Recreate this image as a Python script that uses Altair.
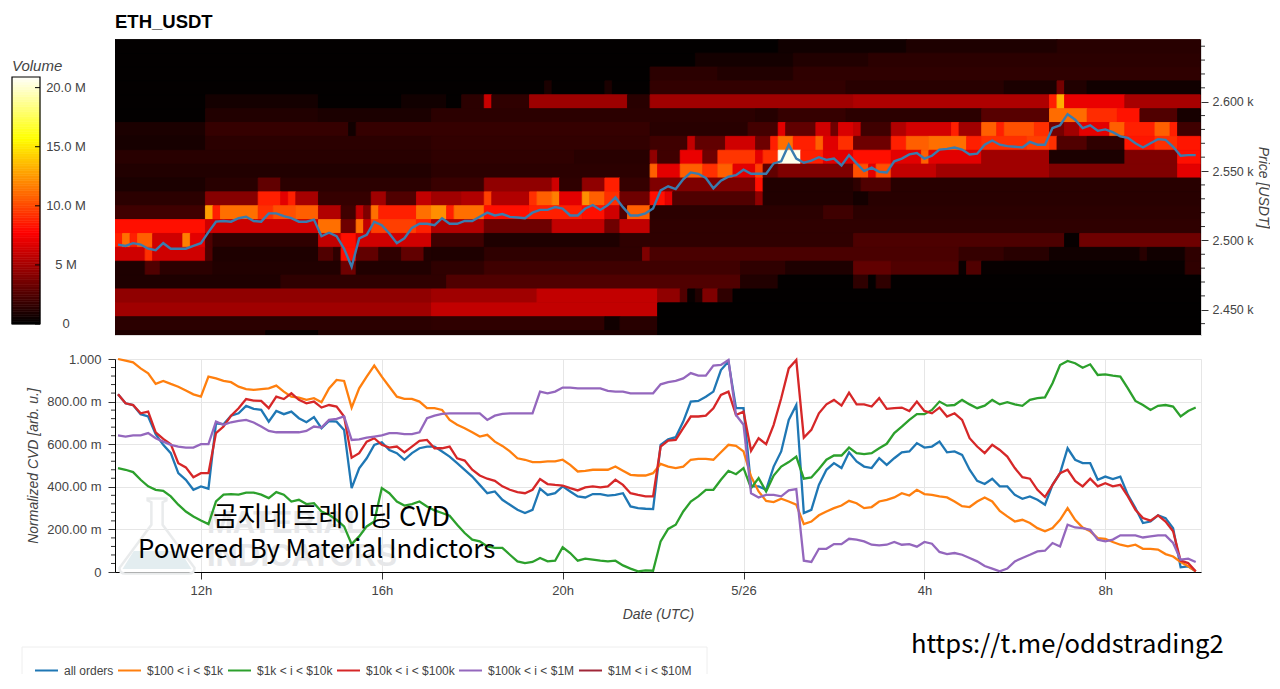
import altair as alt
import pandas as pd

# hours since 00:00 on 5/25, one step = 10 min
START_HOUR = 10 + 10 / 60
X_DOMAIN = [10.1, 34.117]
X_TICKS = [12, 16, 20, 24, 28, 32]
X_LABELS = ['12h', '16h', '20h', '5/26', '4h', '8h']

PRICE = [2497, 2496, 2498, 2497, 2494, 2493, 2498, 2494, 2494, 2494, 2496, 2498, 2506, 2513.5, 2514, 2513.5, 2516, 2517,
         2514, 2513.5, 2519.5, 2519.5, 2517.5, 2516, 2513.5, 2513.5, 2515, 2503, 2505.5, 2503, 2494, 2481, 2501.5, 2504,
         2513.5, 2511, 2505, 2498, 2501.5, 2509, 2512, 2512, 2511, 2516, 2512, 2512, 2514, 2514, 2517, 2520, 2518, 2519,
         2517, 2516.5, 2516, 2520, 2522, 2522, 2524, 2523, 2518, 2518, 2523, 2525.5, 2522, 2525.5, 2531, 2524, 2518, 2518,
         2519.5, 2523, 2536, 2539, 2537, 2544, 2549, 2548, 2545, 2537.5, 2543, 2546, 2547, 2551, 2548, 2548, 2548, 2555.5,
         2557, 2569, 2559, 2556, 2557.5, 2560, 2558, 2559, 2554, 2561.5, 2555.5, 2550, 2552.5, 2549.5, 2549, 2557, 2559,
         2562, 2563, 2559, 2561, 2565.5, 2566, 2567, 2565.5, 2562, 2562.5, 2569, 2572, 2569, 2568, 2567.5, 2567, 2571,
         2569, 2569, 2581, 2583, 2591, 2587, 2581, 2583, 2579, 2580, 2578, 2575, 2574, 2570, 2567, 2570, 2573, 2572.5,
         2567.5, 2561, 2561.5, 2561.5]

# normalized CVD in milli units
ALL_ORDERS = [834, 792, 784, 741, 730, 647, 597, 558, 464, 433, 386, 402, 391, 698, 694, 734, 745, 780, 766, 761, 706, 756,
              741, 753, 722, 703, 727, 675, 709, 706, 667, 394, 487, 534, 597, 609, 573, 558, 527, 558, 581, 589, 589, 566,
              542, 511, 480, 448, 409, 370, 378, 339, 316, 292, 277, 292, 391, 362, 370, 402, 378, 355, 350, 366, 366, 359,
              362, 370, 308, 300, 297, 295, 597, 623, 633, 706, 800, 803, 823, 847, 948, 988, 769, 769, 402, 402, 386, 495,
              566, 714, 784, 277, 292, 409, 480, 511, 488, 562, 519, 495, 488, 534, 503, 534, 562, 566, 605, 584, 589, 612,
              562, 566, 550, 480, 428, 413, 438, 402, 402, 362, 344, 355, 339, 316, 409, 464, 581, 527, 511, 511, 433, 448,
              436, 448, 362, 300, 230, 237, 266, 253, 206, 22, 27, 3]
USD_100_1K = [1000, 992, 984, 956, 933, 883, 897, 883, 870, 852, 834, 823, 917, 909, 897, 891, 870, 859, 855, 859, 862, 875,
              847, 823, 819, 808, 816, 797, 862, 902, 897, 772, 862, 917, 969, 917, 870, 823, 813, 813, 800, 769, 769, 761,
              714, 691, 675, 656, 636, 644, 612, 592, 566, 534, 527, 516, 516, 519, 519, 527, 503, 472, 475, 480, 480, 480,
              495, 475, 456, 453, 453, 464, 508, 495, 488, 495, 527, 531, 531, 527, 562, 597, 592, 566, 448, 378, 334, 328,
              344, 331, 316, 225, 237, 266, 284, 300, 312, 334, 323, 300, 305, 331, 339, 350, 370, 359, 386, 366, 362, 355,
              350, 331, 309, 305, 331, 350, 331, 287, 261, 237, 245, 230, 206, 191, 206, 245, 300, 245, 209, 191, 159, 156,
              141, 128, 120, 128, 109, 109, 105, 84, 73, 47, 27, 3]
USD_1K_10K = [488, 480, 469, 433, 402, 386, 381, 355, 316, 284, 261, 242, 225, 331, 363, 366, 363, 373, 373, 363, 347, 375,
              363, 331, 339, 319, 323, 284, 269, 245, 214, 131, 167, 214, 237, 394, 370, 331, 312, 319, 331, 308, 289, 277,
              264, 222, 183, 152, 144, 120, 113, 113, 81, 50, 42, 47, 66, 50, 53, 116, 89, 53, 63, 58, 53, 50, 53, 31, 16, 3,
              8, 6, 144, 202, 222, 284, 331, 355, 386, 386, 433, 475, 459, 488, 394, 441, 378, 453, 495, 516, 542, 438, 444,
              484, 527, 547, 547, 584, 558, 553, 558, 581, 602, 652, 683, 714, 741, 741, 761, 800, 781, 784, 808, 787, 769,
              781, 808, 787, 797, 787, 780, 808, 816, 820, 886, 972, 991, 980, 959, 975, 925, 928, 922, 917, 862, 803, 784,
              761, 780, 784, 777, 730, 756, 772]
USD_10K_100K = [834, 792, 784, 745, 753, 656, 625, 600, 511, 491, 445, 464, 464, 652, 683, 734, 769, 812, 805, 803, 769, 823,
                812, 839, 808, 792, 800, 772, 784, 777, 730, 537, 558, 612, 628, 597, 584, 589, 562, 589, 616, 620, 581, 581,
                589, 534, 523, 480, 453, 438, 428, 402, 386, 375, 370, 386, 436, 413, 409, 406, 394, 383, 397, 402, 397, 402,
                433, 409, 370, 362, 355, 355, 589, 617, 620, 675, 730, 730, 734, 769, 831, 847, 737, 753, 569, 628, 600, 691,
                816, 956, 995, 631, 667, 745, 787, 808, 781, 842, 787, 787, 777, 816, 766, 769, 772, 756, 800, 756, 745, 772,
                730, 745, 714, 628, 589, 558, 597, 573, 542, 488, 445, 438, 386, 352, 409, 464, 480, 428, 402, 438, 402, 417,
                402, 409, 355, 292, 253, 241, 266, 237, 191, 53, 42, 3]
USD_100K_1M = [641, 636, 641, 641, 652, 628, 612, 597, 589, 584, 584, 600, 600, 706, 691, 703, 709, 714, 702, 683, 662, 656,
               656, 656, 656, 662, 683, 678, 714, 719, 730, 620, 623, 631, 636, 641, 652, 652, 647, 647, 656, 722, 734, 742,
               745, 745, 745, 745, 745, 714, 734, 742, 745, 745, 745, 745, 847, 839, 847, 866, 866, 862, 862, 862, 862, 850,
               847, 847, 839, 839, 839, 839, 881, 891, 897, 909, 934, 922, 922, 969, 972, 995, 737, 691, 370, 350, 362, 362,
               355, 383, 389, 53, 47, 109, 109, 131, 131, 156, 152, 144, 128, 125, 128, 141, 128, 131, 119, 141, 133, 94, 84,
               89, 81, 66, 50, 28, 16, 3, 16, 50, 66, 81, 97, 100, 136, 120, 222, 209, 206, 198, 152, 144, 152, 172, 172, 172,
               162, 167, 172, 172, 136, 58, 63, 47]
USD_1M_10M = []

SERIES_NAMES = ['all orders', '$100 < i < $1k', '$1k < i < $10k', '$10k < i < $100k', '$100k < i < $1M', '$1M < i < $10M']
SERIES_VALUES = [ALL_ORDERS, USD_100_1K, USD_1K_10K, USD_10K_100K, USD_100K_1M, USD_1M_10M]
SERIES_COLORS = ['#1f77b4', '#ff7f0e', '#2ca02c', '#d62728', '#9467bd', '#a02638']

# volume in millions per price row, as (first 10 min column, value) runs
VOLUME_ROWS = {
    2640: [(0, .1), (88, .5), (105, .9), (125, 1.2)],
    2630: [(0, .1), (77, .6), (90, 1.0), (100, 1.3)],
    2620: [(0, .1), (71, 1.3), (80, 1.0), (90, 1.4)],
    2610: [(0, .1), (57, .8), (58, .1), (65, .8), (66, .1), (71, 1.5), (97, 1.2), (118, .8), (125, 3.5), (126, 1.0), (129, .5)],
    2600: [(0, .1), (12, .6), (27, .1), (38, .5), (44, .1), (46, 1.3), (49, 6.0), (50, 1.4), (55, 4.7), (68, 1.2), (71, 4.8),
           (98, 5.2), (124, 8.6), (125, 13.1), (126, 7.0), (134, 5.0)],
    2590: [(0, .1), (12, 1.0), (27, .8), (42, 1.3), (85, 1.1), (88, 1.6), (97, 1.3), (115, 2.6), (124, 11.0), (129, 9.0),
           (133, 8.2), (136, 2.4), (141, .7)],
    2580: [(0, .8), (12, 1.6), (31, .5), (32, 1.6), (71, 1.2), (84, 2.0), (88, 6.8), (89, 2.9), (93, 6.2), (95, 3.3), (96, 6.5),
           (98, 5.8), (99, 1.9), (103, 5.3), (105, 6.3), (111, 8.6), (112, 4.8), (115, 10.6), (117, 8.6), (118, 10.1), (122, 9.1),
           (124, 3.5), (126, 4.8), (128, 6.8), (132, 10.6), (134, 8.6), (138, 10.6), (140, 8.6), (141, 1.9)],
    2570: [(0, .7), (12, 1.3), (42, 1.5), (71, 1.9), (76, 5.8), (77, 2.9), (81, 6.2), (85, 3.3), (87, 8.6), (88, 11.1), (90, 8.6),
           (93, 10.6), (94, 6.7), (96, 9.1), (98, 3.3), (103, 8.6), (105, 10.6), (108, 11.1), (113, 8.6), (115, 9.1), (121, 9.6),
           (124, 9.1), (125, 2.4), (129, 1.4), (134, 8.3), (138, 9.1), (141, 8.3)],
    2560: [(0, 1.2), (42, 1.4), (61, 1.2), (71, 4.3), (72, 1.9), (75, 7.0), (78, 3.3), (80, 9.3), (85, 6.8), (86, 9.1), (88, 20.5),
           (91, 8.6), (94, 6.8), (98, 8.1), (103, 6.8), (107, 10.6), (108, 6.8), (115, 4.8), (124, .8), (134, 3.8), (141, 8.1)],
    2550: [(0, 1.0), (42, 1.3), (71, 10.6), (72, 6.8), (75, 10.6), (78, 9.1), (80, 10.6), (82, 6.8), (85, 9.6), (86, 2.9), (88, 3.8),
           (98, 10.1), (100, 6.8), (101, 10.1), (103, 5.8), (109, 4.8), (124, 3.8), (141, 6.8)],
    2540: [(0, .8), (12, 1.2), (19, 2.9), (22, 1.3), (42, 1.7), (49, 4.3), (58, 6.2), (59, 1.4), (62, 4.3), (65, 8.6), (67, 1.6),
           (71, 3.8), (85, 8.1), (86, 1.0), (98, 1.4), (99, 2.4), (103, 1.2)],
    2530: [(0, 1.3), (12, 4.0), (19, 8.6), (22, 6.8), (23, 8.6), (24, 5.0), (27, 1.6), (34, 4.8), (36, 2.4), (40, 5.8), (42, 4.8),
           (46, 5.3), (49, 9.6), (50, 5.3), (55, 9.1), (56, 10.6), (58, 11.6), (59, 6.8), (62, 12.1), (63, 10.6), (65, 9.1), (67, 3.3),
           (71, 8.1), (73, 6.8), (74, 2.4), (85, 4.3), (86, 1.0), (98, .6), (100, 1.2)],
    2520: [(0, 1.9), (12, 12.6), (13, 8.6), (14, 11.1), (19, 9.1), (21, 10.1), (24, 10.6), (27, 5.3), (30, 1.9), (32, 5.8), (33, 3.8),
           (34, 11.1), (35, 8.6), (40, 11.1), (42, 12.1), (44, 8.6), (45, 11.1), (49, 8.1), (55, 8.6), (62, 8.1), (65, 6.2), (67, 2.4),
           (68, 10.6), (71, 1.3), (94, 1.9), (98, 1.3)],
    2510: [(0, 8.1), (12, 6.2), (27, 11.1), (30, 3.3), (32, 11.1), (33, 5.8), (34, 9.6), (40, 8.6), (42, 5.3), (49, 3.3), (58, 5.8),
           (65, 3.3), (67, 5.8), (71, 1.4)],
    2500: [(0, 8.6), (1, 11.1), (2, 8.6), (3, 10.6), (5, 6.2), (9, 11.6), (10, 6.8), (12, 2.4), (13, 1.4), (27, 5.8), (30, 8.1),
           (32, 6.2), (42, 1.9), (49, .9), (67, 1.4), (98, 2.3), (126, .2), (128, 3.3)],
    2490: [(0, 6.2), (4, 9.1), (5, 6.2), (12, 2.4), (13, .9), (27, 2.4), (29, 1.4), (30, 8.1), (32, 2.9), (35, 1.4), (38, 2.9),
           (41, 1.0), (42, .9), (49, 1.4), (70, 3.8), (71, 2.2), (112, 1.6), (118, 1.2), (124, .5), (136, 1.2), (137, .5), (142, 1.4)],
    2480: [(0, .9), (4, 2.4), (6, 1.3), (13, 1.0), (30, 3.3), (32, 1.0), (42, 1.4), (49, 1.9), (83, 1.4), (89, .9), (98, 2.9),
           (103, 2.4), (112, .3), (113, 2.4), (115, .2), (142, 1.4)],
    2470: [(0, .9), (22, 1.4), (44, 2.4), (83, 1.0), (88, .1), (98, 1.4), (100, .1), (101, 1.4), (103, .1)],
    2460: [(0, 4.3), (42, 4.8), (56, 5.8), (72, 4.3), (75, 2.4), (76, .2), (77, 1.0), (78, 3.8), (80, 1.4), (82, .1)],
    2450: [(0, 4.8), (42, 5.8), (72, .05)],
    2440: [(0, 1.3), (42, 1.4), (65, .5), (67, 1.2), (72, .05)],
    2430: [(0, .9), (20, .2), (27, .9), (72, .05)],
}
N_COLUMNS = 144

PRICE_TICKS = [2450, 2500, 2550, 2600]
PRICE_MINOR = [2440, 2460, 2470, 2480, 2490, 2510, 2520, 2530, 2540, 2560, 2570, 2580, 2590, 2610, 2620, 2630, 2640]
CVD_TICKS = [0, 200, 400, 600, 800, 1000]
CVD_MINOR = [40, 80, 120, 160, 240, 280, 320, 360, 440, 480, 520, 560, 640, 680, 720, 760, 840, 880, 920, 960]
VOLUME_TICKS = [0, 5, 10, 15, 20]
VOLUME_LABELS = ['0', '5 M', '10.0 M', '15.0 M', '20.0 M']
VOLUME_MAX = 20.9
# hot palette stops as (value, (r, g, b))
HOT_STOPS = [(0, (0, 0, 0)), (7.63, (255, 0, 0)), (15.6, (255, 255, 0)), (20.9, (255, 255, 255))]


def hot_color(v):
    for (v0, c0), (v1, c1) in zip(HOT_STOPS, HOT_STOPS[1:]):
        if v <= v1:
            t = (v - v0) / (v1 - v0)
            r, g, b = [round(a + (z - a) * t) for a, z in zip(c0, c1)]
            return f'#{r:02x}{g:02x}{b:02x}'
    return '#ffffff'


hours = [START_HOUR + i / 6 for i in range(N_COLUMNS)]

# heatmap table
rows = []
for price, runs in VOLUME_ROWS.items():
    for j, (first, value) in enumerate(runs):
        last = runs[j + 1][0] if j + 1 < len(runs) else N_COLUMNS
        rows.append({'x0': 10.1 + first / 6, 'x1': 10.1 + last / 6, 'p0': price - 5, 'p1': price + 5,
                     'volume': value, 'hex': hot_color(value)})
heat_df = pd.DataFrame(rows)

price_df = pd.DataFrame({'hour': hours, 'price': PRICE})
cvd_df = pd.concat([pd.DataFrame({'hour': hours[:len(v)], 'cvd': v, 'series': name})
                    for name, v in zip(SERIES_NAMES, SERIES_VALUES)])

x_scale = alt.Scale(domain=X_DOMAIN, nice=False, zero=False)
label_map = ','.join(f"'{t}':'{l}'" for t, l in zip(X_TICKS, X_LABELS))

# heatmap panel
price_scale = alt.Scale(domain=[2431.8, 2645.2], nice=False, zero=False)
heat = alt.Chart(heat_df).mark_rect(clip=True, strokeWidth=0.9).encode(
    x=alt.X('x0:Q', scale=x_scale, axis=None),
    x2='x1:Q',
    y=alt.Y('p0:Q', scale=price_scale, axis=alt.Axis(
        orient='right', values=PRICE_TICKS, grid=False, domain=False, tickSize=7, tickColor='#333',
        labelExpr="format(datum.value/1000,'.3f')+' k'", labelFontSize=12.5, labelColor='#444', labelPadding=4,
        title='Price [USDT]', titleFontStyle='italic', titleFontWeight='normal', titleFontSize=14,
        titleColor='#444', titlePadding=2)),
    y2='p1:Q',
    fill=alt.Fill('hex:N', scale=None, legend=None),
    stroke=alt.Stroke('hex:N', scale=None, legend=None),
)
price_line = alt.Chart(price_df).mark_line(color='#3a7cae', strokeWidth=2.4, clip=True).encode(
    x=alt.X('hour:Q', scale=x_scale, axis=None),
    y=alt.Y('price:Q', scale=price_scale),
)
price_minor = alt.Chart(pd.DataFrame({'price': PRICE_MINOR})).mark_rule(color='#333').encode(
    y=alt.Y('price:Q', scale=price_scale),
    x=alt.value(1086),
    x2=alt.value(1090),
)
heat_panel = alt.layer(heat, price_line, price_minor).properties(
    width=1086, height=296,
    title=alt.TitleParams('ETH_USDT', anchor='start', fontSize=18.5, fontWeight='bold', color='black', offset=8),
    view=alt.ViewBackground(stroke='#dddddd', fill='black'),
)

# colour bar panel
bar_scale = alt.Scale(domain=[0, VOLUME_MAX], range=[285, 38], nice=False, zero=False)
levels = [VOLUME_MAX * i / 100 for i in range(100)]
bar_df = pd.DataFrame({'v0': levels, 'v1': [v + VOLUME_MAX / 100 for v in levels],
                       'hex': [hot_color(v) for v in levels]})
bar = alt.Chart(bar_df).mark_rect(strokeWidth=0.6).encode(
    x=alt.value(0), x2=alt.value(28),
    y=alt.Y('v0:Q', scale=bar_scale, axis=None), y2='v1:Q',
    fill=alt.Fill('hex:N', scale=None, legend=None),
    stroke=alt.Stroke('hex:N', scale=None, legend=None),
)
bar_frame = alt.Chart(pd.DataFrame({'v0': [0], 'v1': [VOLUME_MAX]})).mark_rect(
    fillOpacity=0, stroke='black', strokeWidth=1.2).encode(
    x=alt.value(0), x2=alt.value(28),
    y=alt.Y('v0:Q', scale=bar_scale, axis=None), y2='v1:Q',
)
tick_df = pd.DataFrame({'v': VOLUME_TICKS, 'label': VOLUME_LABELS})
bar_ticks = alt.Chart(tick_df).mark_rule(color='black').encode(
    y=alt.Y('v:Q', scale=bar_scale, axis=None), x=alt.value(23), x2=alt.value(28),
)
bar_labels = alt.Chart(tick_df).mark_text(align='center', fontSize=13, color='#444').encode(
    y=alt.Y('v:Q', scale=bar_scale, axis=None), x=alt.value(54), text='label:N',
)
bar_title = alt.Chart(pd.DataFrame({'t': ['Volume']})).mark_text(
    align='left', baseline='bottom', fontSize=15, fontStyle='italic', color='#444', dy=-3).encode(
    x=alt.value(0), y=alt.value(38), text='t:N',
)
bar_panel = alt.layer(bar, bar_frame, bar_ticks, bar_labels, bar_title).properties(
    width=28, height=296, view=alt.ViewBackground(stroke='transparent'))

spacer = alt.Chart(pd.DataFrame({'t': ['']})).mark_text().encode(
    x=alt.value(0), y=alt.value(0), text='t:N',
).properties(width=28, height=213, view=alt.ViewBackground(stroke='transparent'))

# CVD panel
cvd_scale = alt.Scale(domain=[0, 1000], nice=False, zero=False)
flask = alt.Chart(pd.DataFrame({'t': [0]})).mark_point(
    shape='M-0.25,-1 L0.25,-1 L0.25,-0.95 L0.15,-0.9 L0.15,-0.3 L1,0.85 Q1,1 0.85,1 L-0.85,1 Q-1,1 -1,0.85 '
          'L-0.15,-0.3 L-0.15,-0.9 L-0.25,-0.95 Z',
    size=5625, filled=False, stroke='#e9ebec', strokeWidth=2.5, opacity=1).encode(
    x=alt.value(42), y=alt.value(177))
flask_fill = alt.Chart(pd.DataFrame({'t': [0]})).mark_point(
    shape='M-0.62,0.4 L0.62,0.4 L0.92,0.88 L-0.92,0.88 Z',
    size=5625, filled=True, fill='#e3edf0', strokeWidth=0, opacity=1).encode(
    x=alt.value(42), y=alt.value(177))
watermark = alt.Chart(pd.DataFrame({'t': ['MATERIAL', 'INDICATORS'], 'yy': [165, 198]})).mark_text(
    align='left', fontSize=31, fontWeight='bold', color='#e6e7e9').encode(
    x=alt.value(92), y=alt.Y('yy:Q', scale=None), text='t:N')
lines = alt.Chart(cvd_df).mark_line(strokeWidth=2.3).encode(
    x=alt.X('hour:Q', scale=x_scale, axis=alt.Axis(
        values=X_TICKS, labelExpr="{" + label_map + "}[datum.value]", grid=True, gridColor='#e6e6e6', domainColor='black',
        tickColor='#333', tickSize=7, labelFontSize=13, labelColor='#444', labelPadding=5, title='Date (UTC)',
        titleFontStyle='italic', titleFontWeight='normal', titleFontSize=14, titleColor='#444', titlePadding=10)),
    y=alt.Y('cvd:Q', scale=cvd_scale, axis=alt.Axis(
        values=CVD_TICKS, grid=True, gridColor='#e6e6e6', domainColor='black', tickColor='#333', tickSize=7,
        labelExpr="datum.value==0?'0':(datum.value==1000?'1.000':format(datum.value,'.2f')+' m')",
        labelFontSize=13, labelColor='#444', labelPadding=7, title='Normalized CVD [arb. u.]', titleFontStyle='italic',
        titleFontWeight='normal', titleFontSize=14, titleColor='#444', titlePadding=6)),
    color=alt.Color('series:N', sort=None, scale=alt.Scale(domain=SERIES_NAMES, range=SERIES_COLORS), legend=alt.Legend(
        orient='none', legendX=-81, legendY=299, direction='horizontal', columns=6, gridAlign='none', title=None,
        symbolType='stroke', symbolSize=529, symbolStrokeWidth=2, labelFontSize=12, labelColor='#444', labelOffset=5,
        columnPadding=0, padding=0, labelLimit=200)),
    detail='series:N',
)
cvd_minor = alt.Chart(pd.DataFrame({'cvd': CVD_MINOR})).mark_rule(color='#333').encode(
    y=alt.Y('cvd:Q', scale=cvd_scale), x=alt.value(-4), x2=alt.value(0),
)
text_df = pd.DataFrame({
    't': ['곰지네 트레이딩 CVD', 'Powered By Material Indictors', 'https://t.me/oddstrading2'],
    'xx': [98, 23, 796],
    'yy': [159, 191, 286],
    'fs': [27, 25.8, 25.6],
})
captions = alt.Chart(text_df).mark_text(align='left', font='Noto Sans CJK KR', color='black').encode(
    x=alt.X('xx:Q', scale=None), y=alt.Y('yy:Q', scale=None), text='t:N', size=alt.Size('fs:Q', scale=None, legend=None))

# pale frame that the reference draws round its legend
frame_df = pd.DataFrame({'x0': [-93, -93, 592], 'x1': [592, -93, 592], 'y0': [288, 288, 288], 'y1': [288, 315, 315]})
legend_frame = alt.Chart(frame_df).mark_rule(color='#eeeeee').encode(
    x=alt.X('x0:Q', scale=None), x2='x1:Q', y=alt.Y('y0:Q', scale=None), y2='y1:Q')

cvd_panel = alt.layer(flask, flask_fill, watermark, lines, cvd_minor, captions, legend_frame).properties(
    width=1086, height=213, view=alt.ViewBackground(stroke='#e6e6e6'))

chart = alt.concat(bar_panel, heat_panel, spacer, cvd_panel, columns=2, spacing={'row': 24, 'column': 75},
                   bounds='flush', padding={'left': 2, 'top': 4, 'right': 0, 'bottom': 0}, background='white'
                   ).resolve_scale(color='independent').resolve_legend(color='independent'
                   ).configure(font='Liberation Sans')

chart.save("out.html", embed_options={"renderer": "svg", "actions": False})
